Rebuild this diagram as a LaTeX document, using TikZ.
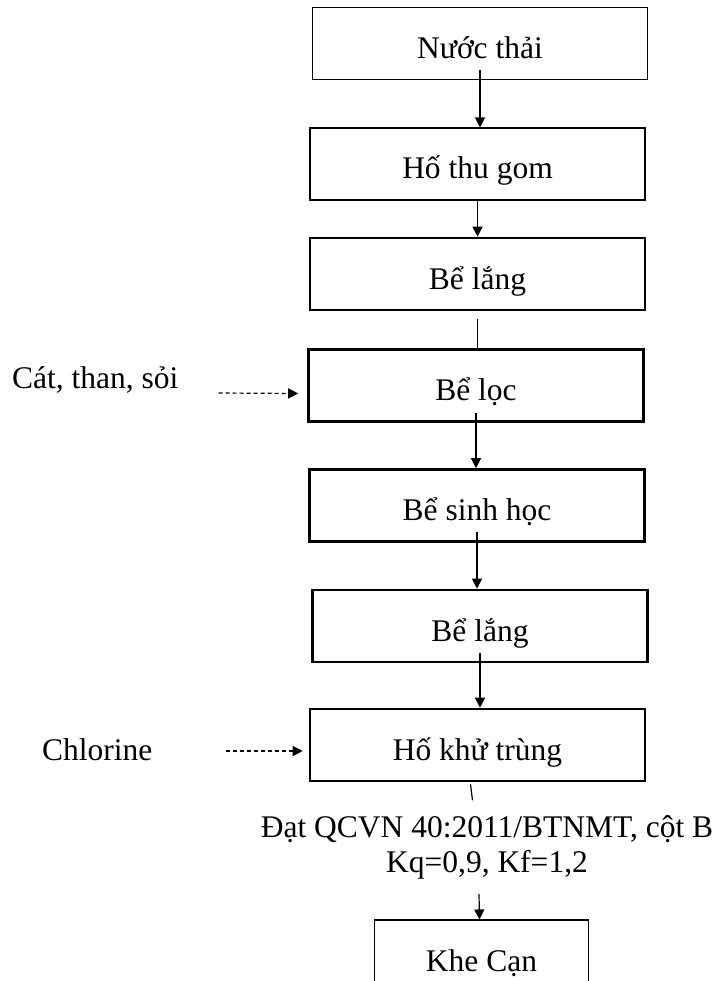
\documentclass[tikz,border=0pt]{standalone}
\usepackage{fontspec}
\setmainfont{Liberation Serif}
\usepackage{tikz}
\usetikzlibrary{arrows.meta,positioning,calc}

\begin{document}
\begin{tikzpicture}[
  x=1pt, y=-1pt,
  every node/.style={font=\fontsize{31.5}{35}\selectfont},
  block/.style={rectangle, draw, line width=1.1pt, inner sep=0pt, minimum width=335pt, text depth=21pt, text height=51pt},
  thickblock/.style={block, line width=2.6pt},
  arrow/.style={-{Triangle[length=10pt,width=10pt]}, line width=1.2pt},
  plain/.style={line width=1.2pt},
  dasharrow/.style={arrow, dash pattern=on 4pt off 3pt}
]
\clip (0,0) rectangle (720,981);
\node[block] (nuoc) at (480,43.5) {Nước thải};
\node[block] (hothu) at (477.5,164) {Hố thu gom};
\node[thickblock] (lang1) at (477.5,274) {Bể lắng};
\node[thickblock] (loc) at (476,385.5) {Bể lọc};
\node[thickblock] (sinh) at (477,505.5) {Bể sinh học};
\node[thickblock] (lang2) at (480,626) {Bể lắng};
\node[thickblock] (khu) at (477.5,745) {Hố khử trùng};
\node[block, minimum width=214pt] (khe) at (481.5,956) {Khe Cạn};
\node[anchor=base west, inner sep=0pt] (cat) at (12,388) {Cát, than, sỏi};
\node[anchor=base west, inner sep=0pt] (chlo) at (42,760) {Chlorine};
\node[align=center, inner sep=0pt] (dat) at (487,847) {Đạt QCVN 40:2011/BTNMT, cột B\\Kq=0,9, Kf=1,2};

\draw[arrow] ([yshift=10pt]nuoc.south) -- (nuoc.south |- hothu.north);
\draw[arrow] (hothu.south) -- (hothu.south |- lang1.north);
\draw[plain] ([yshift=-8pt]lang1.south) -- (lang1.south |- loc.north);
\draw[arrow] ([yshift=10pt]loc.south) -- (loc.south |- sinh.north);
\draw[arrow] ([yshift=11pt]sinh.south) -- (sinh.south |- lang2.north);
\draw[arrow] ([yshift=10pt]lang2.south) -- (lang2.south |- khu.north);
\draw[plain] ([xshift=-7pt,yshift=-2pt]khu.south) -- ++(2,16);
\draw[arrow] ([xshift=-8pt,yshift=-15pt]dat.south) -- ([xshift=-2pt]khe.north);
\draw[dasharrow] ([xshift=40pt,yshift=-5pt]cat.base east) -- ([xshift=-9pt,yshift=-8pt]loc.west);
\draw[dasharrow] ([xshift=73pt,yshift=9pt]chlo.base east) -- ([xshift=-6pt,yshift=-6pt]khu.west);
\end{tikzpicture}
\end{document}
